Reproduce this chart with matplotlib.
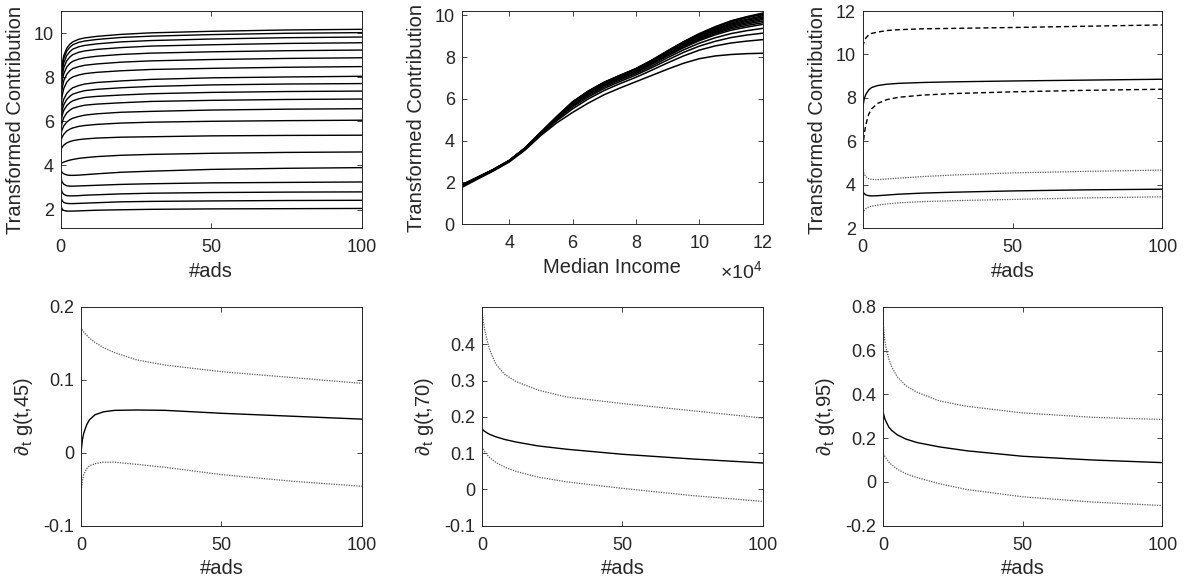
import numpy as np
import matplotlib
matplotlib.use("Agg")
import matplotlib.pyplot as plt
from matplotlib.ticker import FuncFormatter

# MATLAB-like look
plt.rcParams['font.family'] = ['Liberation Sans', 'DejaVu Sans']
plt.rcParams['mathtext.fontset'] = 'custom'
plt.rcParams['mathtext.rm'] = 'Liberation Sans'
plt.rcParams['mathtext.it'] = 'Liberation Sans:italic'
plt.rcParams['axes.unicode_minus'] = False
TXT = '#262626'

# ---- top-left: contribution vs #ads, one curve per income level ----
ads_grid = [0, 0.5, 1, 2, 3, 4, 6, 8, 12, 20, 30, 50, 75, 100]
contrib_by_income = [
    [7.90, 8.58, 8.97, 9.31, 9.49, 9.60, 9.72, 9.78, 9.85, 9.94, 10.01, 10.08, 10.14, 10.17],
    [7.80, 8.47, 8.84, 9.18, 9.35, 9.47, 9.58, 9.64, 9.71, 9.80, 9.86, 9.93, 9.99, 10.02],
    [7.60, 8.27, 8.64, 8.98, 9.15, 9.27, 9.38, 9.44, 9.51, 9.60, 9.66, 9.73, 9.79, 9.82],
    [7.40, 8.05, 8.42, 8.74, 8.91, 9.02, 9.13, 9.19, 9.26, 9.34, 9.41, 9.47, 9.53, 9.56],
    [7.20, 7.81, 8.15, 8.46, 8.62, 8.72, 8.82, 8.88, 8.95, 9.03, 9.09, 9.15, 9.20, 9.23],
    [6.90, 7.49, 7.83, 8.13, 8.29, 8.39, 8.48, 8.54, 8.60, 8.68, 8.74, 8.80, 8.85, 8.88],
    [6.60, 7.16, 7.48, 7.77, 7.92, 8.01, 8.10, 8.16, 8.22, 8.29, 8.35, 8.40, 8.45, 8.48],
    [6.30, 6.74, 7.00, 7.26, 7.41, 7.52, 7.62, 7.69, 7.76, 7.83, 7.90, 7.97, 8.01, 8.04],
    [6.10, 6.50, 6.74, 6.99, 7.13, 7.23, 7.32, 7.39, 7.45, 7.52, 7.58, 7.65, 7.69, 7.71],
    [5.90, 6.27, 6.49, 6.71, 6.84, 6.93, 7.02, 7.08, 7.13, 7.19, 7.25, 7.31, 7.35, 7.37],
    [5.60, 5.95, 6.16, 6.38, 6.50, 6.59, 6.67, 6.73, 6.78, 6.84, 6.90, 6.95, 6.99, 7.01],
    [5.40, 5.63, 5.79, 5.96, 6.07, 6.14, 6.22, 6.28, 6.34, 6.41, 6.45, 6.51, 6.55, 6.57],
    [5.10, 5.29, 5.41, 5.56, 5.64, 5.70, 5.77, 5.81, 5.86, 5.92, 5.96, 6.00, 6.03, 6.05],
    [4.70, 4.83, 4.92, 5.02, 5.08, 5.12, 5.17, 5.20, 5.24, 5.28, 5.30, 5.34, 5.36, 5.37],
    [4.10, 4.12, 4.15, 4.20, 4.24, 4.27, 4.32, 4.35, 4.40, 4.46, 4.50, 4.55, 4.59, 4.61],
    [3.78, 3.68, 3.62, 3.57, 3.55, 3.55, 3.56, 3.58, 3.62, 3.69, 3.74, 3.82, 3.87, 3.90],
    [3.45, 3.25, 3.15, 3.08, 3.06, 3.06, 3.07, 3.08, 3.10, 3.14, 3.17, 3.21, 3.23, 3.25],
    [3.00, 2.78, 2.69, 2.63, 2.62, 2.62, 2.63, 2.65, 2.67, 2.71, 2.74, 2.77, 2.79, 2.80],
    [2.58, 2.40, 2.32, 2.28, 2.27, 2.27, 2.28, 2.29, 2.31, 2.35, 2.37, 2.39, 2.41, 2.42],
    [2.18, 2.02, 1.96, 1.93, 1.93, 1.93, 1.94, 1.95, 1.97, 1.99, 2.01, 2.03, 2.04, 2.05],
]

# ---- top-middle: contribution vs median income, one curve per #ads ----
income_grid = [25000, 30000, 35000, 40000, 45000, 50000, 55000, 60000, 65000, 70000,
               75000, 80000, 85000, 90000, 95000, 100000, 105000, 110000, 115000, 120000]
contrib_by_ads = [
    [1.76, 2.16, 2.55, 2.98, 3.55, 4.25, 4.85, 5.35, 5.80, 6.20, 6.52, 6.82, 7.12, 7.42, 7.70, 7.92, 8.05, 8.12, 8.16, 8.18],
    [1.80, 2.19, 2.57, 3.00, 3.58, 4.30, 4.95, 5.52, 6.00, 6.40, 6.73, 7.03, 7.37, 7.72, 8.05, 8.33, 8.53, 8.67, 8.76, 8.83],
    [1.82, 2.21, 2.59, 3.02, 3.60, 4.33, 5.00, 5.61, 6.09, 6.50, 6.83, 7.14, 7.49, 7.86, 8.22, 8.52, 8.75, 8.93, 9.05, 9.14],
    [1.83, 2.22, 2.59, 3.02, 3.61, 4.34, 5.04, 5.67, 6.16, 6.57, 6.90, 7.21, 7.57, 7.97, 8.34, 8.66, 8.92, 9.12, 9.26, 9.37],
    [1.85, 2.22, 2.60, 3.03, 3.62, 4.36, 5.07, 5.72, 6.22, 6.63, 6.96, 7.27, 7.65, 8.05, 8.44, 8.78, 9.06, 9.28, 9.43, 9.56],
    [1.85, 2.23, 2.60, 3.03, 3.62, 4.36, 5.08, 5.74, 6.24, 6.66, 6.99, 7.30, 7.68, 8.09, 8.48, 8.83, 9.12, 9.35, 9.51, 9.64],
    [1.86, 2.23, 2.61, 3.04, 3.63, 4.37, 5.09, 5.76, 6.26, 6.68, 7.01, 7.32, 7.70, 8.12, 8.52, 8.88, 9.17, 9.41, 9.58, 9.72],
    [1.86, 2.23, 2.61, 3.04, 3.63, 4.37, 5.10, 5.78, 6.28, 6.70, 7.03, 7.35, 7.73, 8.16, 8.56, 8.92, 9.22, 9.47, 9.64, 9.79],
    [1.86, 2.24, 2.61, 3.04, 3.64, 4.38, 5.11, 5.79, 6.30, 6.72, 7.05, 7.37, 7.76, 8.19, 8.60, 8.96, 9.27, 9.52, 9.70, 9.85],
    [1.87, 2.24, 2.62, 3.05, 3.64, 4.38, 5.12, 5.81, 6.32, 6.74, 7.07, 7.39, 7.78, 8.22, 8.63, 9.00, 9.31, 9.57, 9.76, 9.91],
    [1.87, 2.24, 2.62, 3.05, 3.64, 4.39, 5.13, 5.82, 6.34, 6.76, 7.09, 7.41, 7.80, 8.24, 8.66, 9.04, 9.35, 9.62, 9.81, 9.97],
    [1.88, 2.25, 2.62, 3.05, 3.65, 4.40, 5.14, 5.84, 6.36, 6.78, 7.11, 7.43, 7.83, 8.27, 8.70, 9.08, 9.41, 9.68, 9.88, 10.04],
    [1.88, 2.25, 2.62, 3.05, 3.65, 4.40, 5.15, 5.85, 6.37, 6.79, 7.12, 7.44, 7.84, 8.29, 8.72, 9.10, 9.43, 9.71, 9.91, 10.07],
    [1.88, 2.25, 2.62, 3.05, 3.65, 4.40, 5.15, 5.86, 6.38, 6.80, 7.13, 7.45, 7.85, 8.30, 8.73, 9.12, 9.45, 9.73, 9.93, 10.10],
]

# ---- top-right: two income levels with bands ----
ads_band = [0, 0.5, 1, 2, 3, 5, 8, 12, 20, 30, 50, 75, 100]
high_upper = [10.36, 10.60, 10.75, 10.90, 10.97, 11.03, 11.10, 11.14, 11.18, 11.20, 11.24, 11.30, 11.36]
high_mean = [7.55, 7.95, 8.15, 8.37, 8.48, 8.57, 8.63, 8.67, 8.71, 8.74, 8.78, 8.82, 8.86]
high_lower = [5.70, 6.30, 6.75, 7.25, 7.50, 7.75, 7.92, 8.03, 8.13, 8.20, 8.28, 8.35, 8.40]
low_upper = [4.68, 4.50, 4.38, 4.28, 4.25, 4.24, 4.27, 4.31, 4.38, 4.45, 4.55, 4.62, 4.68]
low_mean = [3.69, 3.60, 3.54, 3.50, 3.49, 3.50, 3.53, 3.57, 3.62, 3.66, 3.72, 3.77, 3.80]
low_lower = [2.70, 2.82, 2.90, 2.98, 3.02, 3.07, 3.12, 3.17, 3.23, 3.27, 3.33, 3.40, 3.45]

# ---- bottom row: derivative of g at income percentiles 45, 70, 95 ----
deriv_labels = ['45', '70', '95']
deriv_mean = [
    [0.000, 0.018, 0.027, 0.038, 0.045, 0.052, 0.056, 0.058, 0.0585, 0.058, 0.054, 0.050, 0.046],
    [0.168, 0.163, 0.160, 0.155, 0.151, 0.145, 0.138, 0.131, 0.120, 0.111, 0.097, 0.084, 0.073],
    [0.315, 0.290, 0.275, 0.250, 0.235, 0.215, 0.196, 0.180, 0.160, 0.142, 0.117, 0.100, 0.088],
]
deriv_upper = [
    [0.172, 0.168, 0.165, 0.161, 0.157, 0.151, 0.144, 0.137, 0.127, 0.120, 0.111, 0.103, 0.095],
    [0.490, 0.460, 0.440, 0.405, 0.380, 0.345, 0.318, 0.298, 0.274, 0.255, 0.237, 0.217, 0.197],
    [0.720, 0.650, 0.610, 0.560, 0.525, 0.480, 0.440, 0.410, 0.370, 0.345, 0.315, 0.295, 0.285],
]
deriv_lower = [
    [-0.055, -0.038, -0.030, -0.022, -0.018, -0.015, -0.013, -0.013, -0.016, -0.020, -0.030, -0.039, -0.046],
    [0.118, 0.110, 0.104, 0.094, 0.086, 0.074, 0.062, 0.050, 0.034, 0.021, 0.003, -0.017, -0.033],
    [0.130, 0.118, 0.108, 0.090, 0.078, 0.058, 0.038, 0.020, -0.008, -0.035, -0.068, -0.092, -0.108],
]
deriv_ylim = [(-0.1, 0.2), (-0.1, 0.504), (-0.2, 0.8)]
deriv_yticks = [[-0.1, 0, 0.1, 0.2], [-0.1, 0, 0.1, 0.2, 0.3, 0.4], [-0.2, 0, 0.2, 0.4, 0.6, 0.8]]

W, H = 1186, 586
fig = plt.figure(figsize=(W / 100, H / 100), dpi=100)


def add_ax(left, top, right, bottom):
    return fig.add_axes([left / W, 1 - bottom / H, (right - left) / W, (bottom - top) / H])


def style(ax):
    ax.tick_params(direction='in', top=True, right=True, length=3.5, width=0.6,
                   colors=TXT, labelsize=13, pad=5)
    ax.tick_params(axis='x', pad=8)
    for s in ax.spines.values():
        s.set_color(TXT)
        s.set_linewidth(0.7)


LBL = dict(fontsize=14.5, color=TXT)
solid = dict(color='black', lw=1.0)
dotted = dict(color='0.35', lw=0.9, linestyle=(0, (1, 1)))
dashed = dict(color='black', lw=1.0, linestyle=(0, (3.6, 2.2)))

# panel 1
ax = add_ax(60.7, 11, 361.7, 228.3)
for row in contrib_by_income:
    ax.plot(ads_grid, row, **solid)
ax.set_xlim(0, 100)
ax.set_ylim(1.15, 11)
ax.set_xticks([0, 50, 100])
ax.set_yticks([2, 4, 6, 8, 10])
ax.set_xlabel('#ads', **LBL)
ax.set_ylabel('Transformed Contribution', labelpad=6, **LBL)
style(ax)

# panel 2
ax = add_ax(461.7, 11, 762.7, 224.3)
for row in contrib_by_ads:
    ax.plot(income_grid, row, color='black', lw=1.1)
ax.set_xlim(25000, 120000)
ax.set_ylim(0, 10.2)
ax.set_xticks([40000, 60000, 80000, 100000, 120000])
ax.xaxis.set_major_formatter(FuncFormatter(lambda v, p: '%g' % (v / 1e4)))
ax.set_yticks([0, 2, 4, 6, 8, 10])
ax.set_xlabel('Median Income', **LBL)
ax.set_ylabel('Transformed Contribution', labelpad=6, **LBL)
ax.text(1.0, -0.17, r'$\times10^4$', transform=ax.transAxes, ha='right', va='top',
        fontsize=14, color=TXT)
style(ax)

# panel 3
ax = add_ax(862.7, 11, 1162.3, 228.3)
ax.plot(ads_band, high_upper, **dashed)
ax.plot(ads_band, high_mean, **solid)
ax.plot(ads_band, high_lower, **dashed)
ax.plot(ads_band, low_upper, **dotted)
ax.plot(ads_band, low_mean, **solid)
ax.plot(ads_band, low_lower, **dotted)
ax.set_xlim(0, 100)
ax.set_ylim(2, 12)
ax.set_xticks([0, 50, 100])
ax.set_yticks([2, 4, 6, 8, 10, 12])
ax.set_xlabel('#ads', **LBL)
ax.set_ylabel('Transformed Contribution', labelpad=6, **LBL)
style(ax)

# bottom row
bottom_boxes = [(81, 361.7), (482, 762.7), (883.3, 1162.3)]
for i, (l, r) in enumerate(bottom_boxes):
    ax = add_ax(l, 306.7, r, 525.7)
    ax.plot(ads_band, deriv_upper[i], **dotted)
    ax.plot(ads_band, deriv_mean[i], **solid)
    ax.plot(ads_band, deriv_lower[i], **dotted)
    ax.set_xlim(0, 100)
    ax.set_ylim(*deriv_ylim[i])
    ax.set_xticks([0, 50, 100])
    ax.set_yticks(deriv_yticks[i])
    ax.yaxis.set_major_formatter(FuncFormatter(lambda v, p: '%g' % round(v, 3)))
    ax.set_xlabel('#ads', **LBL)
    ax.set_ylabel(r'$\partial_{\mathrm{t}}$ g(t,%s)' % deriv_labels[i], labelpad=6, **LBL)
    style(ax)

fig.savefig('out.png', dpi=100)
